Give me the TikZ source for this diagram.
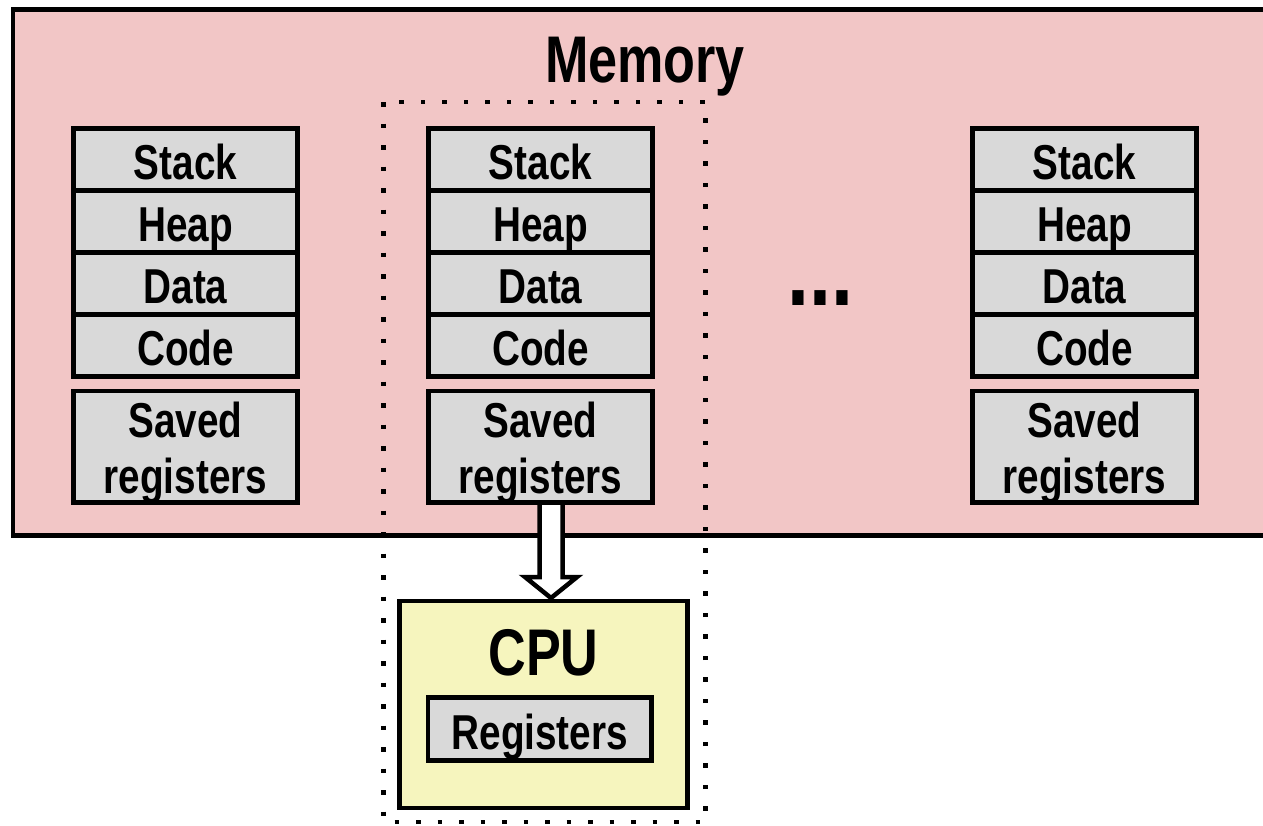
\documentclass[tikz,border=0pt]{standalone}
\usepackage{fontspec}
\setmainfont{Liberation Sans}[FakeStretch=0.79]
\usetikzlibrary{positioning,calc}
\definecolor{memfill}{RGB}{242,198,198}
\definecolor{segfill}{RGB}{217,217,217}
\definecolor{cpufill}{RGB}{246,245,190}
\tikzset{
  seg/.style={draw, line width=4.5pt, fill=segfill, minimum width=224pt, minimum height=62pt,
    inner sep=0pt, outer sep=0pt, align=center, text height=40pt, text depth=0pt,
    font=\bfseries\fontsize{49}{56}\selectfont},
  bigtitle/.style={anchor=base, font=\bfseries\fontsize{66}{70}\selectfont},
}
\begin{document}
\begin{tikzpicture}[x=1pt,y=-1pt]
    \useasboundingbox (0,0) rectangle (1263,825);
    \node[draw, line width=4.5pt, fill=memfill, minimum width=1300pt, minimum height=526pt,
      outer sep=0pt, anchor=north west] (memory) at (13,9.5) {};
    \node[bigtitle] (memlabel) at (645,82) {Memory};
    \foreach \c/\x in {a/185.5, b/540.5, c/1084.5} {
        \node[seg, anchor=north] (stack\c) at (\x,128.5) {Stack};
        \node[seg, below=0pt of stack\c] (heap\c) {Heap};
        \node[seg, below=0pt of heap\c] (data\c) {Data};
        \node[seg, below=0pt of data\c] (code\c) {Code};
        \node[seg, minimum height=111.5pt, text height=100pt, text depth=6pt,
          below=14.5pt of code\c] (saved\c) {Saved\\registers};
    }
    \node[anchor=base, font=\bfseries\fontsize{100}{100}\selectfont] (dots) at (820,305) {...};
    \draw[line width=4.5pt, dash pattern=on 4.5pt off 17pt] (383.5,102) rectangle (705.5,822);
    \node[draw, line width=4.5pt, fill=cpufill, minimum width=288pt, minimum height=207pt,
      outer sep=0pt] (cpu) at (543.5,704.5) {};
    \node[bigtitle] (cpulabel) at (543.5,675) {CPU};
    \node[seg, minimum width=223.5pt, minimum height=63pt] (regs) at (539.8,729) {Registers};
    \draw[line width=4.5pt, fill=white] ($(savedb.south)+(-1,0)$) -- ++(0,74.5) -- ++(-14.5,0)
      -- ($(savedb.south |- cpu.north)+(10.5,-3)$) -- ++(26,-21) -- ++(-14.5,0)
      -- ($(savedb.south)+(22,0)$) -- cycle;
\end{tikzpicture}
\end{document}
